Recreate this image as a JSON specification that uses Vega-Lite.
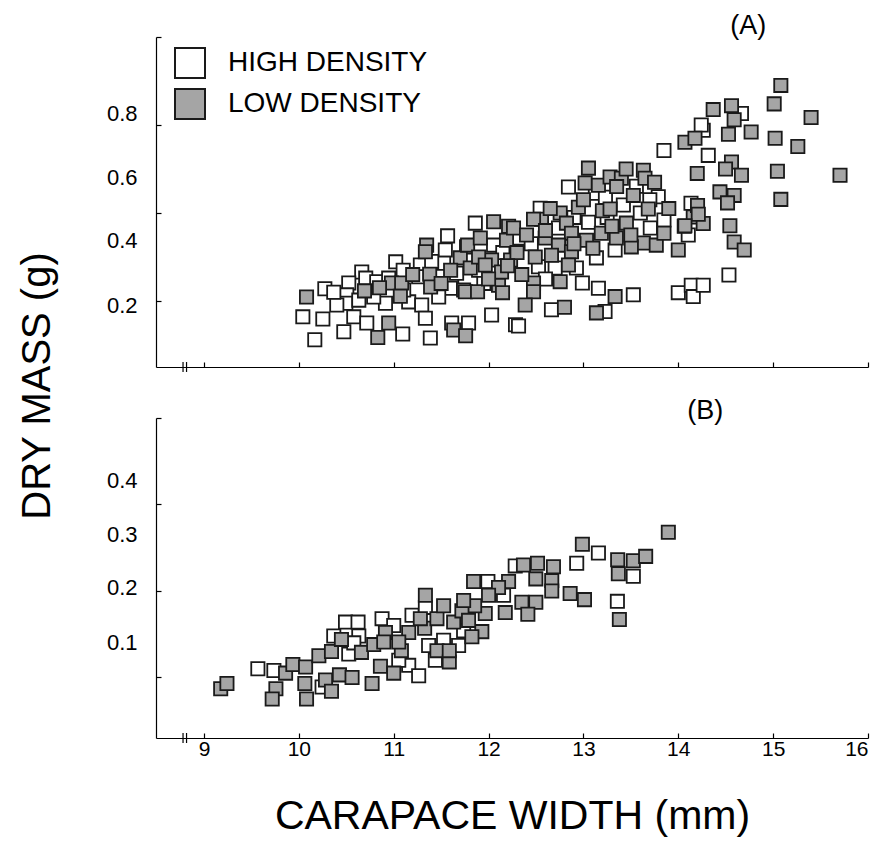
{
  "$schema": "https://vega.github.io/schema/vega-lite/v6.json",
  "background": "white",
  "padding": {"left": 17, "top": 11, "right": 5, "bottom": 5},
  "bounds": "flush",
  "spacing": 51,
  "config": {
    "view": {"stroke": null},
    "font": "Liberation Sans",
    "axis": {
      "grid": false,
      "labelFont": "Liberation Sans",
      "titleFont": "Liberation Sans",
      "domainColor": "#000000",
      "tickColor": "#000000",
      "labelColor": "#000000",
      "titleColor": "#000000",
      "titleFontWeight": "normal",
      "domainWidth": 1.2,
      "tickWidth": 1.2
    },
    "legend": {"labelFont": "Liberation Sans"}
  },
  "datasets": {
    "A": [
      {"cw": 10.274, "mass": 0.228, "density": "HIGH DENSITY"},
      {"cw": 10.042, "mass": 0.164, "density": "HIGH DENSITY"},
      {"cw": 10.253, "mass": 0.159, "density": "HIGH DENSITY"},
      {"cw": 10.168, "mass": 0.112, "density": "HIGH DENSITY"},
      {"cw": 10.663, "mass": 0.266, "density": "HIGH DENSITY"},
      {"cw": 10.526, "mass": 0.241, "density": "HIGH DENSITY"},
      {"cw": 10.505, "mass": 0.214, "density": "HIGH DENSITY"},
      {"cw": 10.495, "mass": 0.195, "density": "HIGH DENSITY"},
      {"cw": 10.579, "mass": 0.164, "density": "HIGH DENSITY"},
      {"cw": 10.474, "mass": 0.130, "density": "HIGH DENSITY"},
      {"cw": 10.705, "mass": 0.252, "density": "HIGH DENSITY"},
      {"cw": 10.821, "mass": 0.244, "density": "HIGH DENSITY"},
      {"cw": 10.716, "mass": 0.150, "density": "HIGH DENSITY"},
      {"cw": 11.095, "mass": 0.125, "density": "HIGH DENSITY"},
      {"cw": 11.021, "mass": 0.289, "density": "HIGH DENSITY"},
      {"cw": 10.947, "mass": 0.252, "density": "HIGH DENSITY"},
      {"cw": 10.913, "mass": 0.195, "density": "HIGH DENSITY"},
      {"cw": 11.158, "mass": 0.198, "density": "HIGH DENSITY"},
      {"cw": 11.281, "mass": 0.282, "density": "HIGH DENSITY"},
      {"cw": 11.263, "mass": 0.255, "density": "HIGH DENSITY"},
      {"cw": 11.295, "mass": 0.191, "density": "HIGH DENSITY"},
      {"cw": 11.334, "mass": 0.161, "density": "HIGH DENSITY"},
      {"cw": 11.386, "mass": 0.116, "density": "HIGH DENSITY"},
      {"cw": 11.568, "mass": 0.348, "density": "HIGH DENSITY"},
      {"cw": 11.544, "mass": 0.316, "density": "HIGH DENSITY"},
      {"cw": 11.526, "mass": 0.286, "density": "HIGH DENSITY"},
      {"cw": 11.611, "mass": 0.244, "density": "HIGH DENSITY"},
      {"cw": 11.597, "mass": 0.229, "density": "HIGH DENSITY"},
      {"cw": 11.663, "mass": 0.263, "density": "HIGH DENSITY"},
      {"cw": 11.768, "mass": 0.323, "density": "HIGH DENSITY"},
      {"cw": 11.86, "mass": 0.377, "density": "HIGH DENSITY"},
      {"cw": 11.611, "mass": 0.150, "density": "HIGH DENSITY"},
      {"cw": 11.789, "mass": 0.150, "density": "HIGH DENSITY"},
      {"cw": 12.032, "mass": 0.168, "density": "HIGH DENSITY"},
      {"cw": 12.284, "mass": 0.146, "density": "HIGH DENSITY"},
      {"cw": 13.849, "mass": 0.542, "density": "HIGH DENSITY"},
      {"cw": 12.842, "mass": 0.459, "density": "HIGH DENSITY"},
      {"cw": 13.789, "mass": 0.437, "density": "HIGH DENSITY"},
      {"cw": 12.544, "mass": 0.411, "density": "HIGH DENSITY"},
      {"cw": 13.849, "mass": 0.384, "density": "HIGH DENSITY"},
      {"cw": 14.105, "mass": 0.350, "density": "HIGH DENSITY"},
      {"cw": 12.526, "mass": 0.278, "density": "HIGH DENSITY"},
      {"cw": 12.702, "mass": 0.275, "density": "HIGH DENSITY"},
      {"cw": 13.334, "mass": 0.316, "density": "HIGH DENSITY"},
      {"cw": 12.989, "mass": 0.241, "density": "HIGH DENSITY"},
      {"cw": 13.158, "mass": 0.229, "density": "HIGH DENSITY"},
      {"cw": 13.526, "mass": 0.214, "density": "HIGH DENSITY"},
      {"cw": 14.0, "mass": 0.219, "density": "HIGH DENSITY"},
      {"cw": 14.137, "mass": 0.236, "density": "HIGH DENSITY"},
      {"cw": 14.158, "mass": 0.210, "density": "HIGH DENSITY"},
      {"cw": 12.663, "mass": 0.180, "density": "HIGH DENSITY"},
      {"cw": 13.228, "mass": 0.176, "density": "HIGH DENSITY"},
      {"cw": 12.316, "mass": 0.143, "density": "HIGH DENSITY"},
      {"cw": 14.666, "mass": 0.626, "density": "HIGH DENSITY"},
      {"cw": 14.263, "mass": 0.588, "density": "HIGH DENSITY"},
      {"cw": 14.316, "mass": 0.531, "density": "HIGH DENSITY"},
      {"cw": 14.134, "mass": 0.422, "density": "HIGH DENSITY"},
      {"cw": 14.534, "mass": 0.259, "density": "HIGH DENSITY"},
      {"cw": 14.263, "mass": 0.236, "density": "HIGH DENSITY"},
      {"cw": 14.242, "mass": 0.600, "density": "HIGH DENSITY"},
      {"cw": 13.126, "mass": 0.445, "density": "HIGH DENSITY"},
      {"cw": 13.232, "mass": 0.436, "density": "HIGH DENSITY"},
      {"cw": 12.316, "mass": 0.343, "density": "HIGH DENSITY"},
      {"cw": 12.737, "mass": 0.366, "density": "HIGH DENSITY"},
      {"cw": 13.053, "mass": 0.379, "density": "HIGH DENSITY"},
      {"cw": 13.421, "mass": 0.418, "density": "HIGH DENSITY"},
      {"cw": 11.895, "mass": 0.270, "density": "HIGH DENSITY"},
      {"cw": 12.053, "mass": 0.327, "density": "HIGH DENSITY"},
      {"cw": 11.737, "mass": 0.225, "density": "HIGH DENSITY"},
      {"cw": 11.474, "mass": 0.209, "density": "HIGH DENSITY"},
      {"cw": 11.105, "mass": 0.225, "density": "HIGH DENSITY"},
      {"cw": 10.789, "mass": 0.209, "density": "HIGH DENSITY"},
      {"cw": 10.632, "mass": 0.202, "density": "HIGH DENSITY"},
      {"cw": 10.4, "mass": 0.191, "density": "HIGH DENSITY"},
      {"cw": 10.368, "mass": 0.220, "density": "HIGH DENSITY"},
      {"cw": 13.705, "mass": 0.366, "density": "HIGH DENSITY"},
      {"cw": 12.926, "mass": 0.275, "density": "HIGH DENSITY"},
      {"cw": 13.137, "mass": 0.298, "density": "HIGH DENSITY"},
      {"cw": 13.558, "mass": 0.461, "density": "HIGH DENSITY"},
      {"cw": 12.15, "mass": 0.310, "density": "HIGH DENSITY"},
      {"cw": 12.45, "mass": 0.330, "density": "HIGH DENSITY"},
      {"cw": 12.9, "mass": 0.390, "density": "HIGH DENSITY"},
      {"cw": 13.25, "mass": 0.390, "density": "HIGH DENSITY"},
      {"cw": 13.6, "mass": 0.400, "density": "HIGH DENSITY"},
      {"cw": 11.95, "mass": 0.240, "density": "HIGH DENSITY"},
      {"cw": 11.4, "mass": 0.290, "density": "HIGH DENSITY"},
      {"cw": 12.6, "mass": 0.250, "density": "HIGH DENSITY"},
      {"cw": 13.7, "mass": 0.430, "density": "HIGH DENSITY"},
      {"cw": 11.1, "mass": 0.270, "density": "HIGH DENSITY"},
      {"cw": 10.081, "mass": 0.209, "density": "LOW DENSITY"},
      {"cw": 10.692, "mass": 0.223, "density": "LOW DENSITY"},
      {"cw": 10.947, "mass": 0.150, "density": "LOW DENSITY"},
      {"cw": 10.832, "mass": 0.117, "density": "LOW DENSITY"},
      {"cw": 10.976, "mass": 0.241, "density": "LOW DENSITY"},
      {"cw": 11.084, "mass": 0.241, "density": "LOW DENSITY"},
      {"cw": 11.07, "mass": 0.211, "density": "LOW DENSITY"},
      {"cw": 11.379, "mass": 0.261, "density": "LOW DENSITY"},
      {"cw": 11.389, "mass": 0.232, "density": "LOW DENSITY"},
      {"cw": 11.347, "mass": 0.327, "density": "LOW DENSITY"},
      {"cw": 11.334, "mass": 0.312, "density": "LOW DENSITY"},
      {"cw": 11.702, "mass": 0.298, "density": "LOW DENSITY"},
      {"cw": 11.807, "mass": 0.275, "density": "LOW DENSITY"},
      {"cw": 11.779, "mass": 0.327, "density": "LOW DENSITY"},
      {"cw": 11.913, "mass": 0.343, "density": "LOW DENSITY"},
      {"cw": 12.053, "mass": 0.380, "density": "LOW DENSITY"},
      {"cw": 12.211, "mass": 0.370, "density": "LOW DENSITY"},
      {"cw": 12.189, "mass": 0.338, "density": "LOW DENSITY"},
      {"cw": 12.032, "mass": 0.293, "density": "LOW DENSITY"},
      {"cw": 12.232, "mass": 0.293, "density": "LOW DENSITY"},
      {"cw": 11.895, "mass": 0.300, "density": "LOW DENSITY"},
      {"cw": 11.755, "mass": 0.221, "density": "LOW DENSITY"},
      {"cw": 11.884, "mass": 0.221, "density": "LOW DENSITY"},
      {"cw": 12.105, "mass": 0.236, "density": "LOW DENSITY"},
      {"cw": 12.147, "mass": 0.219, "density": "LOW DENSITY"},
      {"cw": 11.632, "mass": 0.134, "density": "LOW DENSITY"},
      {"cw": 11.758, "mass": 0.121, "density": "LOW DENSITY"},
      {"cw": 11.965, "mass": 0.282, "density": "LOW DENSITY"},
      {"cw": 12.137, "mass": 0.266, "density": "LOW DENSITY"},
      {"cw": 14.07, "mass": 0.561, "density": "LOW DENSITY"},
      {"cw": 14.176, "mass": 0.570, "density": "LOW DENSITY"},
      {"cw": 14.2, "mass": 0.490, "density": "LOW DENSITY"},
      {"cw": 13.053, "mass": 0.502, "density": "LOW DENSITY"},
      {"cw": 13.018, "mass": 0.468, "density": "LOW DENSITY"},
      {"cw": 13.158, "mass": 0.463, "density": "LOW DENSITY"},
      {"cw": 13.281, "mass": 0.482, "density": "LOW DENSITY"},
      {"cw": 13.4, "mass": 0.479, "density": "LOW DENSITY"},
      {"cw": 13.632, "mass": 0.497, "density": "LOW DENSITY"},
      {"cw": 13.649, "mass": 0.479, "density": "LOW DENSITY"},
      {"cw": 13.526, "mass": 0.440, "density": "LOW DENSITY"},
      {"cw": 13.684, "mass": 0.409, "density": "LOW DENSITY"},
      {"cw": 13.2, "mass": 0.405, "density": "LOW DENSITY"},
      {"cw": 13.281, "mass": 0.409, "density": "LOW DENSITY"},
      {"cw": 12.947, "mass": 0.413, "density": "LOW DENSITY"},
      {"cw": 12.755, "mass": 0.400, "density": "LOW DENSITY"},
      {"cw": 12.558, "mass": 0.386, "density": "LOW DENSITY"},
      {"cw": 12.474, "mass": 0.386, "density": "LOW DENSITY"},
      {"cw": 12.263, "mass": 0.366, "density": "LOW DENSITY"},
      {"cw": 12.821, "mass": 0.377, "density": "LOW DENSITY"},
      {"cw": 12.874, "mass": 0.354, "density": "LOW DENSITY"},
      {"cw": 12.597, "mass": 0.343, "density": "LOW DENSITY"},
      {"cw": 12.737, "mass": 0.327, "density": "LOW DENSITY"},
      {"cw": 13.032, "mass": 0.338, "density": "LOW DENSITY"},
      {"cw": 13.189, "mass": 0.354, "density": "LOW DENSITY"},
      {"cw": 13.347, "mass": 0.343, "density": "LOW DENSITY"},
      {"cw": 13.453, "mass": 0.377, "density": "LOW DENSITY"},
      {"cw": 13.632, "mass": 0.332, "density": "LOW DENSITY"},
      {"cw": 13.768, "mass": 0.327, "density": "LOW DENSITY"},
      {"cw": 13.849, "mass": 0.354, "density": "LOW DENSITY"},
      {"cw": 14.063, "mass": 0.370, "density": "LOW DENSITY"},
      {"cw": 14.0, "mass": 0.316, "density": "LOW DENSITY"},
      {"cw": 14.158, "mass": 0.391, "density": "LOW DENSITY"},
      {"cw": 12.492, "mass": 0.300, "density": "LOW DENSITY"},
      {"cw": 12.663, "mass": 0.304, "density": "LOW DENSITY"},
      {"cw": 12.874, "mass": 0.312, "density": "LOW DENSITY"},
      {"cw": 12.842, "mass": 0.282, "density": "LOW DENSITY"},
      {"cw": 13.505, "mass": 0.323, "density": "LOW DENSITY"},
      {"cw": 12.474, "mass": 0.241, "density": "LOW DENSITY"},
      {"cw": 12.474, "mass": 0.221, "density": "LOW DENSITY"},
      {"cw": 12.755, "mass": 0.244, "density": "LOW DENSITY"},
      {"cw": 13.334, "mass": 0.210, "density": "LOW DENSITY"},
      {"cw": 12.386, "mass": 0.191, "density": "LOW DENSITY"},
      {"cw": 12.8, "mass": 0.186, "density": "LOW DENSITY"},
      {"cw": 13.137, "mass": 0.173, "density": "LOW DENSITY"},
      {"cw": 12.3, "mass": 0.310, "density": "LOW DENSITY"},
      {"cw": 12.4, "mass": 0.350, "density": "LOW DENSITY"},
      {"cw": 12.6, "mass": 0.360, "density": "LOW DENSITY"},
      {"cw": 12.9, "mass": 0.330, "density": "LOW DENSITY"},
      {"cw": 13.1, "mass": 0.320, "density": "LOW DENSITY"},
      {"cw": 13.3, "mass": 0.370, "density": "LOW DENSITY"},
      {"cw": 13.5, "mass": 0.350, "density": "LOW DENSITY"},
      {"cw": 13.0, "mass": 0.430, "density": "LOW DENSITY"},
      {"cw": 13.35, "mass": 0.460, "density": "LOW DENSITY"},
      {"cw": 12.65, "mass": 0.410, "density": "LOW DENSITY"},
      {"cw": 12.2, "mass": 0.280, "density": "LOW DENSITY"},
      {"cw": 11.6, "mass": 0.270, "density": "LOW DENSITY"},
      {"cw": 11.5, "mass": 0.240, "density": "LOW DENSITY"},
      {"cw": 12.0, "mass": 0.250, "density": "LOW DENSITY"},
      {"cw": 13.75, "mass": 0.470, "density": "LOW DENSITY"},
      {"cw": 13.9, "mass": 0.410, "density": "LOW DENSITY"},
      {"cw": 13.45, "mass": 0.500, "density": "LOW DENSITY"},
      {"cw": 12.35, "mass": 0.260, "density": "LOW DENSITY"},
      {"cw": 11.2, "mass": 0.260, "density": "LOW DENSITY"},
      {"cw": 10.85, "mass": 0.230, "density": "LOW DENSITY"},
      {"cw": 15.081, "mass": 0.690, "density": "LOW DENSITY"},
      {"cw": 15.011, "mass": 0.648, "density": "LOW DENSITY"},
      {"cw": 15.4, "mass": 0.617, "density": "LOW DENSITY"},
      {"cw": 14.368, "mass": 0.635, "density": "LOW DENSITY"},
      {"cw": 14.561, "mass": 0.644, "density": "LOW DENSITY"},
      {"cw": 14.589, "mass": 0.612, "density": "LOW DENSITY"},
      {"cw": 14.529, "mass": 0.579, "density": "LOW DENSITY"},
      {"cw": 14.768, "mass": 0.584, "density": "LOW DENSITY"},
      {"cw": 15.021, "mass": 0.570, "density": "LOW DENSITY"},
      {"cw": 15.26, "mass": 0.551, "density": "LOW DENSITY"},
      {"cw": 15.705, "mass": 0.486, "density": "LOW DENSITY"},
      {"cw": 15.045, "mass": 0.495, "density": "LOW DENSITY"},
      {"cw": 14.561, "mass": 0.516, "density": "LOW DENSITY"},
      {"cw": 14.498, "mass": 0.500, "density": "LOW DENSITY"},
      {"cw": 14.666, "mass": 0.486, "density": "LOW DENSITY"},
      {"cw": 15.081, "mass": 0.431, "density": "LOW DENSITY"},
      {"cw": 14.439, "mass": 0.448, "density": "LOW DENSITY"},
      {"cw": 14.589, "mass": 0.440, "density": "LOW DENSITY"},
      {"cw": 14.519, "mass": 0.423, "density": "LOW DENSITY"},
      {"cw": 14.203, "mass": 0.417, "density": "LOW DENSITY"},
      {"cw": 14.263, "mass": 0.376, "density": "LOW DENSITY"},
      {"cw": 14.211, "mass": 0.397, "density": "LOW DENSITY"},
      {"cw": 14.07, "mass": 0.371, "density": "LOW DENSITY"},
      {"cw": 14.544, "mass": 0.371, "density": "LOW DENSITY"},
      {"cw": 14.589, "mass": 0.334, "density": "LOW DENSITY"},
      {"cw": 14.695, "mass": 0.316, "density": "LOW DENSITY"}
    ],
    "B": [
      {"cw": 9.568, "mass": 0.110, "density": "HIGH DENSITY"},
      {"cw": 9.737, "mass": 0.108, "density": "HIGH DENSITY"},
      {"cw": 10.245, "mass": 0.089, "density": "HIGH DENSITY"},
      {"cw": 10.368, "mass": 0.148, "density": "HIGH DENSITY"},
      {"cw": 10.492, "mass": 0.164, "density": "HIGH DENSITY"},
      {"cw": 10.624, "mass": 0.164, "density": "HIGH DENSITY"},
      {"cw": 10.632, "mass": 0.148, "density": "HIGH DENSITY"},
      {"cw": 10.526, "mass": 0.127, "density": "HIGH DENSITY"},
      {"cw": 10.877, "mass": 0.168, "density": "HIGH DENSITY"},
      {"cw": 11.158, "mass": 0.114, "density": "HIGH DENSITY"},
      {"cw": 11.263, "mass": 0.102, "density": "HIGH DENSITY"},
      {"cw": 11.193, "mass": 0.172, "density": "HIGH DENSITY"},
      {"cw": 11.334, "mass": 0.181, "density": "HIGH DENSITY"},
      {"cw": 11.439, "mass": 0.120, "density": "HIGH DENSITY"},
      {"cw": 13.158, "mass": 0.244, "density": "HIGH DENSITY"},
      {"cw": 13.526, "mass": 0.217, "density": "HIGH DENSITY"},
      {"cw": 12.929, "mass": 0.232, "density": "HIGH DENSITY"},
      {"cw": 13.358, "mass": 0.188, "density": "HIGH DENSITY"},
      {"cw": 11.993, "mass": 0.211, "density": "HIGH DENSITY"},
      {"cw": 12.281, "mass": 0.229, "density": "HIGH DENSITY"},
      {"cw": 11.0, "mass": 0.160, "density": "HIGH DENSITY"},
      {"cw": 11.526, "mass": 0.143, "density": "HIGH DENSITY"},
      {"cw": 11.737, "mass": 0.154, "density": "HIGH DENSITY"},
      {"cw": 11.053, "mass": 0.120, "density": "HIGH DENSITY"},
      {"cw": 11.368, "mass": 0.137, "density": "HIGH DENSITY"},
      {"cw": 12.158, "mass": 0.195, "density": "HIGH DENSITY"},
      {"cw": 11.684, "mass": 0.137, "density": "HIGH DENSITY"},
      {"cw": 10.579, "mass": 0.140, "density": "HIGH DENSITY"},
      {"cw": 9.176, "mass": 0.087, "density": "LOW DENSITY"},
      {"cw": 9.242, "mass": 0.093, "density": "LOW DENSITY"},
      {"cw": 9.758, "mass": 0.087, "density": "LOW DENSITY"},
      {"cw": 9.719, "mass": 0.075, "density": "LOW DENSITY"},
      {"cw": 9.86, "mass": 0.105, "density": "LOW DENSITY"},
      {"cw": 9.937, "mass": 0.115, "density": "LOW DENSITY"},
      {"cw": 10.071, "mass": 0.112, "density": "LOW DENSITY"},
      {"cw": 10.063, "mass": 0.093, "density": "LOW DENSITY"},
      {"cw": 10.081, "mass": 0.075, "density": "LOW DENSITY"},
      {"cw": 10.211, "mass": 0.125, "density": "LOW DENSITY"},
      {"cw": 10.281, "mass": 0.097, "density": "LOW DENSITY"},
      {"cw": 10.344, "mass": 0.084, "density": "LOW DENSITY"},
      {"cw": 10.344, "mass": 0.130, "density": "LOW DENSITY"},
      {"cw": 10.449, "mass": 0.144, "density": "LOW DENSITY"},
      {"cw": 10.428, "mass": 0.103, "density": "LOW DENSITY"},
      {"cw": 10.561, "mass": 0.100, "density": "LOW DENSITY"},
      {"cw": 10.66, "mass": 0.129, "density": "LOW DENSITY"},
      {"cw": 10.772, "mass": 0.093, "density": "LOW DENSITY"},
      {"cw": 10.913, "mass": 0.152, "density": "LOW DENSITY"},
      {"cw": 10.789, "mass": 0.138, "density": "LOW DENSITY"},
      {"cw": 10.895, "mass": 0.141, "density": "LOW DENSITY"},
      {"cw": 10.86, "mass": 0.113, "density": "LOW DENSITY"},
      {"cw": 11.0, "mass": 0.105, "density": "LOW DENSITY"},
      {"cw": 11.081, "mass": 0.131, "density": "LOW DENSITY"},
      {"cw": 11.158, "mass": 0.152, "density": "LOW DENSITY"},
      {"cw": 11.334, "mass": 0.195, "density": "LOW DENSITY"},
      {"cw": 11.326, "mass": 0.157, "density": "LOW DENSITY"},
      {"cw": 11.281, "mass": 0.168, "density": "LOW DENSITY"},
      {"cw": 11.456, "mass": 0.168, "density": "LOW DENSITY"},
      {"cw": 11.456, "mass": 0.131, "density": "LOW DENSITY"},
      {"cw": 11.586, "mass": 0.118, "density": "LOW DENSITY"},
      {"cw": 11.586, "mass": 0.131, "density": "LOW DENSITY"},
      {"cw": 11.632, "mass": 0.164, "density": "LOW DENSITY"},
      {"cw": 11.053, "mass": 0.141, "density": "LOW DENSITY"},
      {"cw": 12.989, "mass": 0.254, "density": "LOW DENSITY"},
      {"cw": 13.361, "mass": 0.236, "density": "LOW DENSITY"},
      {"cw": 13.368, "mass": 0.220, "density": "LOW DENSITY"},
      {"cw": 13.526, "mass": 0.235, "density": "LOW DENSITY"},
      {"cw": 13.656, "mass": 0.240, "density": "LOW DENSITY"},
      {"cw": 12.86, "mass": 0.197, "density": "LOW DENSITY"},
      {"cw": 13.011, "mass": 0.190, "density": "LOW DENSITY"},
      {"cw": 13.379, "mass": 0.167, "density": "LOW DENSITY"},
      {"cw": 13.895, "mass": 0.268, "density": "LOW DENSITY"},
      {"cw": 12.368, "mass": 0.230, "density": "LOW DENSITY"},
      {"cw": 12.516, "mass": 0.232, "density": "LOW DENSITY"},
      {"cw": 12.684, "mass": 0.228, "density": "LOW DENSITY"},
      {"cw": 12.666, "mass": 0.212, "density": "LOW DENSITY"},
      {"cw": 12.666, "mass": 0.200, "density": "LOW DENSITY"},
      {"cw": 12.498, "mass": 0.214, "density": "LOW DENSITY"},
      {"cw": 12.211, "mass": 0.211, "density": "LOW DENSITY"},
      {"cw": 11.842, "mass": 0.211, "density": "LOW DENSITY"},
      {"cw": 12.105, "mass": 0.204, "density": "LOW DENSITY"},
      {"cw": 12.0, "mass": 0.195, "density": "LOW DENSITY"},
      {"cw": 12.351, "mass": 0.187, "density": "LOW DENSITY"},
      {"cw": 12.498, "mass": 0.187, "density": "LOW DENSITY"},
      {"cw": 12.414, "mass": 0.173, "density": "LOW DENSITY"},
      {"cw": 12.176, "mass": 0.175, "density": "LOW DENSITY"},
      {"cw": 11.965, "mass": 0.174, "density": "LOW DENSITY"},
      {"cw": 11.853, "mass": 0.183, "density": "LOW DENSITY"},
      {"cw": 11.719, "mass": 0.177, "density": "LOW DENSITY"},
      {"cw": 11.929, "mass": 0.153, "density": "LOW DENSITY"},
      {"cw": 11.824, "mass": 0.147, "density": "LOW DENSITY"},
      {"cw": 11.737, "mass": 0.189, "density": "LOW DENSITY"},
      {"cw": 11.526, "mass": 0.183, "density": "LOW DENSITY"},
      {"cw": 11.789, "mass": 0.166, "density": "LOW DENSITY"}
    ]
  },
  "vconcat": [
    {
      "width": 712,
      "height": 330,
      "resolve": {"axis": {"y": "independent"}},
      "layer": [
        {
          "data": {"name": "A"},
          "mark": {"type": "square", "size": 175, "strokeWidth": 1.8, "stroke": "#1a1a1a", "opacity": 1},
          "encoding": {
            "x": {"field": "cw", "type": "quantitative", "scale": {"domain": [8.494, 16], "nice": false, "zero": false},
                  "axis": {"orient": "bottom", "values": [9, 10, 11, 12, 13, 14, 15, 16], "labels": false, "tickSize": -5, "title": null}},
            "y": {"field": "mass", "type": "quantitative", "scale": {"domain": [0.05, 0.8], "nice": false, "zero": false},
                  "axis": {"orient": "left", "values": [0.2, 0.4, 0.6, 0.8], "labels": false, "tickSize": -5, "title": null}},
            "fill": {"field": "density", "type": "nominal",
                     "scale": {"domain": ["HIGH DENSITY", "LOW DENSITY"], "range": ["#ffffff", "#a5a5a5"]},
                     "legend": {"orient": "none", "legendX": 18, "legendY": 10, "title": null,
                                "symbolType": "square", "symbolSize": 900, "symbolStrokeColor": "#1a1a1a", "symbolStrokeWidth": 2,
                                "labelFontSize": 28, "labelColor": "#000000", "labelOffset": 22, "labelLimit": 0, "rowPadding": 3, "symbolOpacity": 1}}
          }
        },
        {
          "data": {"values": [{"cw": 8.779}, {"cw": 8.816}]},
          "mark": {"type": "rule", "color": "#000000", "strokeWidth": 1.2},
          "encoding": {
            "x": {"field": "cw", "type": "quantitative"},
            "y": {"datum": 0.0387, "type": "quantitative", "axis": null},
            "y2": {"datum": 0.0613}
          }
        },
        {
          "data": {"values": [{"panel": "(A)", "cw": 14.737, "mass": 0.826}]},
          "mark": {"type": "text", "fontSize": 27, "color": "#000000", "align": "center", "baseline": "middle"},
          "encoding": {
            "x": {"field": "cw", "type": "quantitative"},
            "y": {"field": "mass", "type": "quantitative",
                  "axis": {"orient": "left", "values": [0.1902, 0.3364, 0.4818, 0.6268], "ticks": false, "tickSize": 0, "domain": false,
                           "labelPadding": 19, "labelFontSize": 22, "title": null,
                           "labelExpr": "datum.value < 0.26 ? '0.2' : datum.value < 0.41 ? '0.4' : datum.value < 0.55 ? '0.6' : '0.8'"}},
            "text": {"field": "panel"}
          }
        }
      ]
    },
    {
      "width": 712,
      "height": 320,
      "resolve": {"axis": {"y": "independent"}},
      "layer": [
        {
          "data": {"name": "B"},
          "mark": {"type": "square", "size": 175, "strokeWidth": 1.8, "stroke": "#1a1a1a", "opacity": 1},
          "encoding": {
            "x": {"field": "cw", "type": "quantitative", "scale": {"domain": [8.494, 16], "nice": false, "zero": false},
                  "axis": {"orient": "bottom", "values": [9, 10, 11, 12, 13, 14, 15, 16], "format": "d", "tickSize": -5, "labelFontSize": 21, "labelPadding": 5,
                           "title": "CARAPACE WIDTH (mm)", "titleFontSize": 41, "titlePadding": 37}},
            "y": {"field": "mass", "type": "quantitative", "scale": {"domain": [0.03, 0.4], "nice": false, "zero": false},
                  "axis": {"orient": "left", "values": [0.1, 0.2, 0.3, 0.4], "labels": false, "tickSize": -5,
                           "title": "DRY MASS (g)", "titleFontSize": 40, "titleX": -119, "titleY": -32.5, "titleAngle": -90,
                           "titleAlign": "center", "titleBaseline": "middle"}},
            "fill": {"field": "density", "type": "nominal",
                     "scale": {"domain": ["HIGH DENSITY", "LOW DENSITY"], "range": ["#ffffff", "#a5a5a5"]}}
          }
        },
        {
          "data": {"values": [{"cw": 8.779}, {"cw": 8.816}]},
          "mark": {"type": "rule", "color": "#000000", "strokeWidth": 1.2},
          "encoding": {
            "x": {"field": "cw", "type": "quantitative"},
            "y": {"datum": 0.0242, "type": "quantitative", "axis": null},
            "y2": {"datum": 0.0358}
          }
        },
        {
          "data": {"values": [{"panel": "(B)", "cw": 14.284, "mass": 0.408}]},
          "mark": {"type": "text", "fontSize": 27, "color": "#000000", "align": "center", "baseline": "middle"},
          "encoding": {
            "x": {"field": "cw", "type": "quantitative"},
            "y": {"field": "mass", "type": "quantitative",
                  "axis": {"orient": "left", "values": [0.1405, 0.204, 0.2653, 0.3272], "ticks": false, "tickSize": 0, "domain": false,
                           "labelPadding": 19, "labelFontSize": 22, "title": null,
                           "labelExpr": "datum.value < 0.17 ? '0.1' : datum.value < 0.235 ? '0.2' : datum.value < 0.3 ? '0.3' : '0.4'"}},
            "text": {"field": "panel"}
          }
        }
      ]
    }
  ]
}
